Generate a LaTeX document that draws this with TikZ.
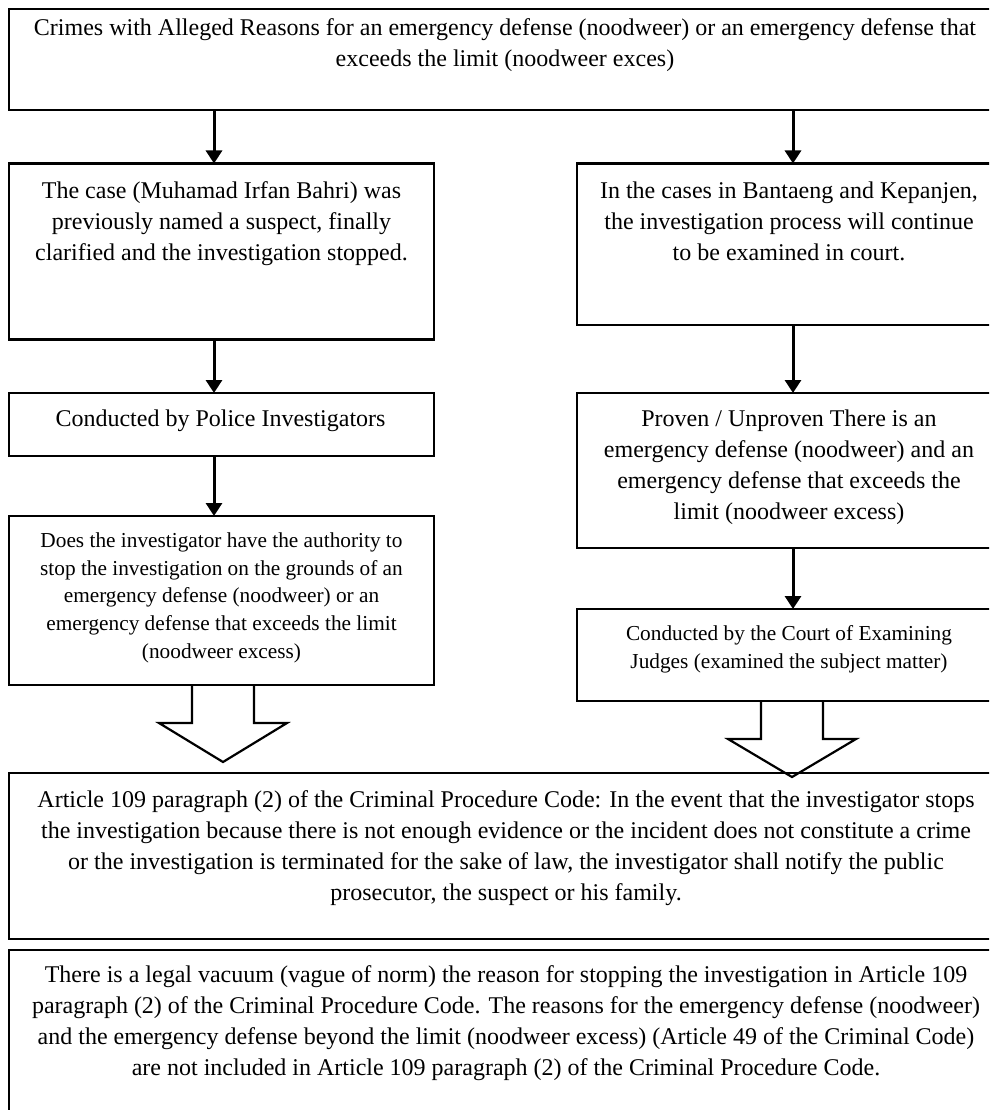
\documentclass[tikz,border=0pt]{standalone}
\usepackage{fontspec}
\setmainfont{Liberation Serif}
\usetikzlibrary{arrows.meta}
\begin{document}
\begin{tikzpicture}[x=1pt,y=-1pt,
  box/.style={draw=black,line width=2.8pt,rectangle,inner sep=0pt,outer sep=0pt,anchor=north west},
  bigtxt/.style={anchor=north,inner sep=0pt,align=center,font=\fontsize{24pt}{31pt}\selectfont},
  smalltxt/.style={anchor=north,inner sep=0pt,align=center,font=\fontsize{21.3pt}{27.8pt}\selectfont},
  arr/.style={line width=3pt,-{Triangle[length=13pt,width=16pt]}},
  blk/.style={line width=2.2pt,line join=miter}]
\useasboundingbox (0,0) rectangle (989,1110);
\clip (0,0) rectangle (989,1110);
% boxes
\node[box,minimum width=992pt,minimum height=101pt] (T) at (9,9) {};
\node[box,minimum width=425pt,minimum height=176pt] (L2) at (9,163.5) {};
\node[box,minimum width=425pt,minimum height=63pt] (L3) at (9,393) {};
\node[box,minimum width=425pt,minimum height=169pt] (L4) at (9,516) {};
\node[box,minimum width=424pt,minimum height=161.5pt] (R2) at (577,163.5) {};
\node[box,minimum width=424pt,minimum height=155pt] (R3) at (577,393) {};
\node[box,minimum width=424pt,minimum height=92pt] (R4) at (577,609) {};
\node[box,minimum width=992pt,minimum height=166pt] (B1) at (9,773) {};
\node[box,minimum width=992pt,minimum height=190pt] (B2) at (9,950) {};
% texts
\node[bigtxt] (Tt) at (505,15) {\rule{0pt}{20pt}Crimes with Alleged Reasons for an emergency defense (noodweer) or an emergency defense that\\exceeds the limit (noodweer exces)};
\node[bigtxt] (L2t) at (221.5,178) {\rule{0pt}{20pt}The case (Muhamad Irfan Bahri) was\\previously named a suspect, finally\\clarified and the investigation stopped.};
\node[bigtxt] (L3t) at (220.5,406) {\rule{0pt}{20pt}Conducted by Police Investigators};
\node[smalltxt] (L4t) at (221.5,529) {\rule{0pt}{18pt}Does the investigator have the authority to\\stop the investigation on the grounds of an\\emergency defense (noodweer) or an\\emergency defense that exceeds the limit\\(noodweer excess)};
\node[bigtxt] (R2t) at (789,178) {\rule{0pt}{20pt}In the cases in Bantaeng and Kepanjen,\\the investigation process will continue\\to be examined in court.};
\node[bigtxt] (R3t) at (789,406) {\rule{0pt}{20pt}Proven / Unproven There is an\\emergency defense (noodweer) and an\\emergency defense that exceeds the\\limit (noodweer excess)};
\node[smalltxt] (R4t) at (789,622) {\rule{0pt}{18pt}Conducted by the Court of Examining\\Judges (examined the subject matter)};
\node[bigtxt] (B1t) at (506,787) {\rule{0pt}{20pt}Article 109 paragraph (2) of the Criminal Procedure Code: In the event that the investigator stops\\the investigation because there is not enough evidence or the incident does not constitute a crime\\or the investigation is terminated for the sake of law, the investigator shall notify the public\\prosecutor, the suspect or his family.};
\node[bigtxt] (B2t) at (506,962) {\rule{0pt}{20pt}There is a legal vacuum (vague of norm) the reason for stopping the investigation in Article 109\\paragraph (2) of the Criminal Procedure Code. The reasons for the emergency defense (noodweer)\\and the emergency defense beyond the limit (noodweer excess) (Article 49 of the Criminal Code)\\are not included in Article 109 paragraph (2) of the Criminal Procedure Code.};
% connector columns
\coordinate (cl) at (214,0);
\coordinate (cr) at (793,0);
\draw[arr] (T.south -| cl) -- (L2.north -| cl);
\draw[arr] (T.south -| cr) -- (R2.north -| cr);
\draw[arr] (L2.south -| cl) -- (L3.north -| cl);
\draw[arr] (L3.south -| cl) -- (L4.north -| cl);
\draw[arr] (R2.south -| cr) -- (R3.north -| cr);
\draw[arr] (R3.south -| cr) -- (R4.north -| cr);
% block arrows
\draw[blk] (192,685) -- (192,723) -- (159,723) -- (223,762) -- (287,723) -- (254,723) -- (254,685);
\draw[blk] (761,701) -- (761,739) -- (728,739) -- (792,777) -- (856,739) -- (823,739) -- (823,701);
\end{tikzpicture}
\end{document}
